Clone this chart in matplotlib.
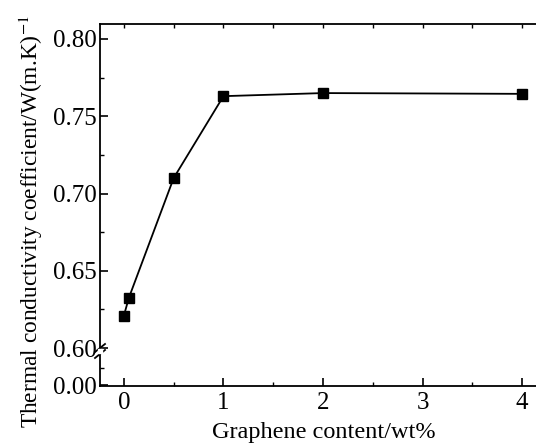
import matplotlib
matplotlib.use("Agg")
import matplotlib.pyplot as plt
from matplotlib.ticker import MultipleLocator

# values
graphene_wt = [0.0, 0.05, 0.5, 1.0, 2.0, 4.0]
conductivity = [0.621, 0.6325, 0.710, 0.763, 0.765, 0.7645]
upper_ticks = [0.60, 0.65, 0.70, 0.75, 0.80]
lower_ticks = [0.00]
x_ticks = [0, 1, 2, 3, 4]

plt.rcParams["font.family"] = ["Liberation Serif", "DejaVu Serif"]
plt.rcParams["mathtext.fontset"] = "stix"

W, H = 536, 448
fig = plt.figure(figsize=(W / 100, H / 100), dpi=100)

left = 100 / W
right = 547 / W
top_px, brk_px, bot_px = 24, 355, 386
ax_hi = fig.add_axes([left, 1 - brk_px / H, right - left, (brk_px - top_px) / H])
ax_lo = fig.add_axes([left, 1 - bot_px / H, right - left, (bot_px - brk_px) / H])

xlim = (-0.24, 4.25)
for ax in (ax_hi, ax_lo):
    ax.set_xlim(*xlim)
    ax.spines["right"].set_visible(False)
    for s in ax.spines.values():
        s.set_linewidth(1.3)

ax_hi.plot(graphene_wt, conductivity, color="black", linewidth=1.3,
           marker="s", markersize=6.5, clip_on=False)
ax_hi.set_ylim(0.5955, 0.8097)
ax_hi.set_yticks(upper_ticks)
ax_hi.yaxis.set_minor_locator(MultipleLocator(0.025))
ax_hi.set_yticklabels([f"{v:.2f}" for v in upper_ticks])
ax_hi.spines["bottom"].set_visible(False)
ax_hi.set_xticks(x_ticks)
ax_hi.xaxis.set_minor_locator(MultipleLocator(0.5))
ax_hi.tick_params(axis="x", which="both", bottom=False, labelbottom=False,
                  top=True, direction="in", length=3, width=1)
ax_hi.tick_params(axis="y", which="major", direction="in", length=6, width=1.2,
                  labelsize=18, pad=2)
ax_hi.tick_params(axis="y", which="minor", direction="in", length=3, width=1)

ax_lo.set_ylim(-0.001, 0.045)
ax_lo.set_yticks(lower_ticks)
ax_lo.set_yticklabels([f"{v:.2f}" for v in lower_ticks])
ax_lo.yaxis.set_minor_locator(MultipleLocator(0.025))
ax_lo.spines["top"].set_visible(False)
ax_lo.set_xticks(x_ticks)
ax_lo.xaxis.set_minor_locator(MultipleLocator(0.5))
ax_lo.tick_params(axis="x", which="major", direction="in", length=6, width=1.2,
                  labelsize=18, pad=4)
ax_lo.tick_params(axis="x", which="minor", direction="in", length=3, width=1)
ax_lo.tick_params(axis="y", which="major", direction="in", length=6, width=1.2,
                  labelsize=18, pad=2)
ax_lo.tick_params(axis="y", which="minor", direction="in", length=3, width=1)
ax_lo.set_xlabel("Graphene content/wt%", fontsize=17.5, labelpad=6)

fig.text(31 / W, 1 - 222 / H, r"Thermal conductivity coefficient/W(m.K)$^{-1}$",
         rotation=90, ha="center", va="center", fontsize=16.8)

# break marks on the left spine
bx, by = 100, 351
for dy in (-3, 3):
    fig.add_artist(plt.Line2D([(bx - 5) / W, (bx + 5) / W],
                              [1 - (by + dy + 4) / H, 1 - (by + dy - 4) / H],
                              color="black", linewidth=1.3))
fig.add_artist(plt.Rectangle(((bx - 2) / W, 1 - (by + 2) / H), 4 / W, 4 / H,
                             color="white", zorder=5))

fig.savefig("out.png", dpi=100)
